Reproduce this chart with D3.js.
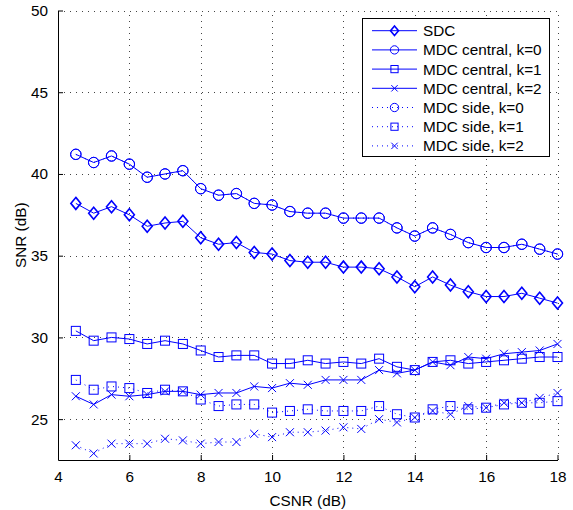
<!DOCTYPE html>
<html>
<head>
<meta charset="utf-8">
<script src="https://cdn.jsdelivr.net/npm/d3@7"></script>
<style>
  body { margin: 0; background: #fff; }
  svg { font-family: "Liberation Sans", Arial, Helvetica, sans-serif; }
</style>
</head>
<body>
<svg id="chart" width="573" height="510"></svg>
<script>
// x values (CSNR, dB)
const csnr = [4.5, 5, 5.5, 6, 6.5, 7, 7.5, 8, 8.5, 9, 9.5, 10, 10.5, 11, 11.5, 12,
  12.5, 13, 13.5, 14, 14.5, 15, 15.5, 16, 16.5, 17, 17.5, 18];

// SNR values
const sdc = [38.2, 37.6, 38.0, 37.5, 36.8, 37.0, 37.1, 36.1, 35.7, 35.8, 35.2, 35.1, 34.7, 34.6,
  34.6, 34.3, 34.3, 34.2, 33.7, 33.1, 33.7, 33.2, 32.8, 32.5, 32.5, 32.7, 32.4, 32.1];
const centralK0 = [41.2, 40.7, 41.1, 40.6, 39.8, 40.0, 40.2, 39.1, 38.7, 38.8, 38.2, 38.1, 37.7, 37.6,
  37.6, 37.3, 37.3, 37.3, 36.7, 36.2, 36.7, 36.3, 35.8, 35.5, 35.5, 35.7, 35.4, 35.1];
const centralK1 = [30.4, 29.8, 30.0, 29.9, 29.6, 29.8, 29.6, 29.2, 28.8, 28.9, 28.9, 28.4, 28.4, 28.6,
  28.4, 28.5, 28.4, 28.7, 28.2, 28.0, 28.5, 28.6, 28.4, 28.5, 28.6, 28.7, 28.8, 28.8];
const centralK2 = [26.4, 25.9, 26.5, 26.4, 26.5, 26.7, 26.7, 26.5, 26.6, 26.6, 27.0, 26.9, 27.2, 27.1,
  27.4, 27.4, 27.4, 28.0, 27.8, 28.0, 28.5, 28.3, 28.8, 28.7, 29.0, 29.1, 29.2, 29.6];
const sideK0 = centralK0.slice();
const sideK1 = [27.4, 26.8, 27.0, 26.9, 26.6, 26.8, 26.7, 26.2, 25.8, 25.9, 25.9, 25.4, 25.5, 25.6,
  25.5, 25.5, 25.5, 25.8, 25.3, 25.1, 25.6, 25.8, 25.6, 25.7, 25.9, 26.0, 26.0, 26.1];
const sideK2 = [23.4, 22.9, 23.5, 23.5, 23.5, 23.8, 23.7, 23.5, 23.6, 23.6, 24.1, 23.9, 24.2, 24.2,
  24.3, 24.5, 24.4, 25.0, 24.8, 25.1, 25.5, 25.3, 25.8, 25.7, 26.0, 26.0, 26.3, 26.6];

const xTicks = [4, 6, 8, 10, 12, 14, 16, 18];
const yTicks = [25, 30, 35, 40, 45, 50];

const series = [
  { name: "SDC", values: sdc, marker: "diamond", dotted: false },
  { name: "MDC central, k=0", values: centralK0, marker: "circle", dotted: false },
  { name: "MDC central, k=1", values: centralK1, marker: "square", dotted: false },
  { name: "MDC central, k=2", values: centralK2, marker: "cross", dotted: false },
  { name: "MDC side, k=0", values: sideK0, marker: "circle", dotted: true },
  { name: "MDC side, k=1", values: sideK1, marker: "square", dotted: true },
  { name: "MDC side, k=2", values: sideK2, marker: "cross", dotted: true }
];

const blue = "#0000ff";
const fontSize = "15.3px";
const plotLeft = 58, plotRight = 557.5, plotTop = 10.5, plotBottom = 460;

const svg = d3.select("#chart");
const x = d3.scaleLinear().domain([4, 18]).range([plotLeft, plotRight]);
const y = d3.scaleLinear().domain([22.5, 50]).range([plotBottom, plotTop]);

// grid
const grid = svg.append("g")
  .attr("stroke", "#444")
  .attr("stroke-width", 1)
  .attr("stroke-dasharray", "1,5");
grid.selectAll("line.gx").data(xTicks.filter(d => d > 4)).enter().append("line")
  .attr("x1", d => Math.round(x(d)) + 0.5).attr("x2", d => Math.round(x(d)) + 0.5)
  .attr("y1", plotBottom).attr("y2", plotTop);
grid.selectAll("line.gy").data(yTicks).enter().append("line")
  .attr("y1", d => Math.round(y(d)) + 0.5).attr("y2", d => Math.round(y(d)) + 0.5)
  .attr("x1", plotLeft).attr("x2", plotRight);

// axes (ticks pointing inward)
const xAxis = svg.append("g")
  .attr("transform", `translate(0,${plotBottom})`)
  .call(d3.axisBottom(x).tickValues(xTicks).tickSizeInner(-5).tickSizeOuter(0).tickPadding(11));
const yAxis = svg.append("g")
  .attr("transform", `translate(${plotLeft},0)`)
  .call(d3.axisLeft(y).tickValues(yTicks).tickSizeInner(-5).tickSizeOuter(0).tickPadding(10));
[xAxis, yAxis].forEach(a => {
  a.select(".domain").attr("stroke", "#000");
  a.selectAll(".tick line").attr("stroke", "#000");
  a.selectAll(".tick text").attr("fill", "#000").style("font-size", fontSize);
});

svg.append("text")
  .attr("x", x(11)).attr("y", 506)
  .attr("text-anchor", "middle")
  .style("font-size", fontSize)
  .text("CSNR (dB)");
svg.append("text")
  .attr("transform", `translate(26,${y(36.25)}) rotate(-90)`)
  .attr("text-anchor", "middle")
  .style("font-size", fontSize)
  .text("SNR (dB)");

// marker drawing
function drawMarker(g, type, cx, cy, s) {
  if (type === "circle") {
    g.append("circle").attr("cx", cx).attr("cy", cy).attr("r", 5.2 * s);
  } else if (type === "square") {
    g.append("rect").attr("x", cx - 4.5 * s).attr("y", cy - 4.5 * s)
      .attr("width", 9 * s).attr("height", 9 * s);
  } else if (type === "diamond") {
    const w = 5 * s, h = 6 * s;
    g.append("path").attr("d", `M${cx},${cy - h}L${cx + w},${cy}L${cx},${cy + h}L${cx - w},${cy}Z`)
      .attr("stroke-width", 1.6);
  } else {
    const a = 4 * s;
    g.append("path").attr("d", `M${cx - a},${cy - a}L${cx + a},${cy + a}M${cx - a},${cy + a}L${cx + a},${cy - a}`);
  }
}

const line = d3.line().x(d => x(d[0])).y(d => y(d[1]));
const plot = svg.append("g");
// draw dotted series first so the solid ones sit on top
[...series].reverse().forEach(s => {
  const pts = csnr.map((c, i) => [c, s.values[i]]);
  const g = plot.append("g").attr("fill", "none").attr("stroke", blue).attr("stroke-width", 1);
  g.append("path").datum(pts).attr("d", line)
    .attr("stroke-dasharray", s.dotted ? "1,4" : null);
  pts.forEach(p => drawMarker(g, s.marker, x(p[0]), y(p[1]), 1));
});

// legend
const lg = svg.append("g");
lg.append("rect").attr("x", 362.5).attr("y", 18.5).attr("width", 187).attr("height", 138)
  .attr("fill", "#fff").attr("stroke", "#000");
series.forEach((s, i) => {
  const cy = 30.7 + i * 19.2;
  const g = lg.append("g").attr("fill", "none").attr("stroke", blue).attr("stroke-width", 1);
  g.append("line").attr("x1", 372).attr("x2", 417).attr("y1", cy).attr("y2", cy)
    .attr("stroke-dasharray", s.dotted ? "1,4" : null);
  drawMarker(g, s.marker, 394.5, cy, 0.8);
  lg.append("text").attr("x", 423).attr("y", cy + 5.5)
    .style("font-size", fontSize).attr("fill", "#000").text(s.name);
});
</script>
</body>
</html>
